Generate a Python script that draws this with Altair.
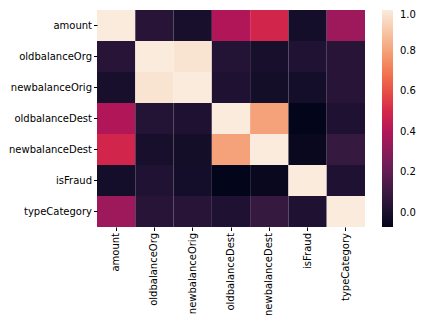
import altair as alt
import pandas as pd

labels = ["amount", "oldbalanceOrg", "newbalanceOrig", "oldbalanceDest",
          "newbalanceDest", "isFraud", "typeCategory"]

amount_row         = [1.00, 0.04, -0.01, 0.40, 0.49, -0.015, 0.35]
oldbalanceOrg_row  = [0.04, 1.00, 0.98, 0.027, -0.01, 0.02, 0.043]
newbalanceOrig_row = [-0.01, 0.98, 1.00, 0.015, -0.02, -0.015, 0.04]
oldbalanceDest_row = [0.40, 0.027, 0.015, 1.00, 0.80, -0.069, 0.015]
newbalanceDest_row = [0.49, -0.01, -0.02, 0.80, 1.00, -0.054, 0.086]
isFraud_row        = [-0.015, 0.02, -0.015, -0.069, -0.054, 1.00, 0.015]
typeCategory_row   = [0.35, 0.043, 0.04, 0.015, 0.086, 0.015, 1.00]

rows = [amount_row, oldbalanceOrg_row, newbalanceOrig_row, oldbalanceDest_row,
        newbalanceDest_row, isFraud_row, typeCategory_row]

records = []
for i, r in enumerate(rows):
    for j, v in enumerate(r):
        records.append({"row": labels[i], "col": labels[j], "corr": v})
df = pd.DataFrame(records)

vmin, vmax = -0.069, 1.0
rocket_t = [0.0, 0.07, 0.143, 0.286, 0.429, 0.571, 0.714, 0.857, 1.0]
rocket_c = ["#03051a", "#1c1030", "#35193e", "#701f57", "#ad1759",
            "#e13342", "#f37651", "#f6b48f", "#faebdd"]
dom = [vmin + t * (vmax - vmin) for t in rocket_t]

chart = alt.Chart(df).mark_rect(strokeWidth=0).encode(
    x=alt.X("col:N", sort=labels, title=None,
            axis=alt.Axis(labelAngle=270, labelFontSize=10, labelColor="#000",
                          tickSize=3.5, tickColor="#000", domain=False,
                          labelPadding=2, labelFont="DejaVu Sans")),
    y=alt.Y("row:N", sort=labels, title=None,
            axis=alt.Axis(labelFontSize=10, labelColor="#000", tickSize=3.5,
                          tickColor="#000", domain=False, labelPadding=2,
                          labelFont="DejaVu Sans")),
    color=alt.Color("corr:Q",
                    scale=alt.Scale(domain=dom, range=rocket_c),
                    legend=alt.Legend(title=None, orient="none", legendX=285,
                                      legendY=0, gradientLength=217,
                                      gradientThickness=11, direction="vertical",
                                      values=[0.0, 0.2, 0.4, 0.6, 0.8, 1.0],
                                      format=".1f", labelFontSize=10,
                                      labelColor="#000", labelFont="DejaVu Sans",
                                      labelOffset=7, padding=0,
                                      gradientStrokeWidth=0)),
).properties(
    width=268, height=217,
    autosize=alt.AutoSizeParams(type="none"),
    padding={"left": 97, "top": 10, "right": 57, "bottom": 98},
).configure_scale(bandPaddingInner=0, bandPaddingOuter=0).configure_view(stroke=None)

chart.save("out.html", embed_options={"renderer": "svg", "actions": False})
